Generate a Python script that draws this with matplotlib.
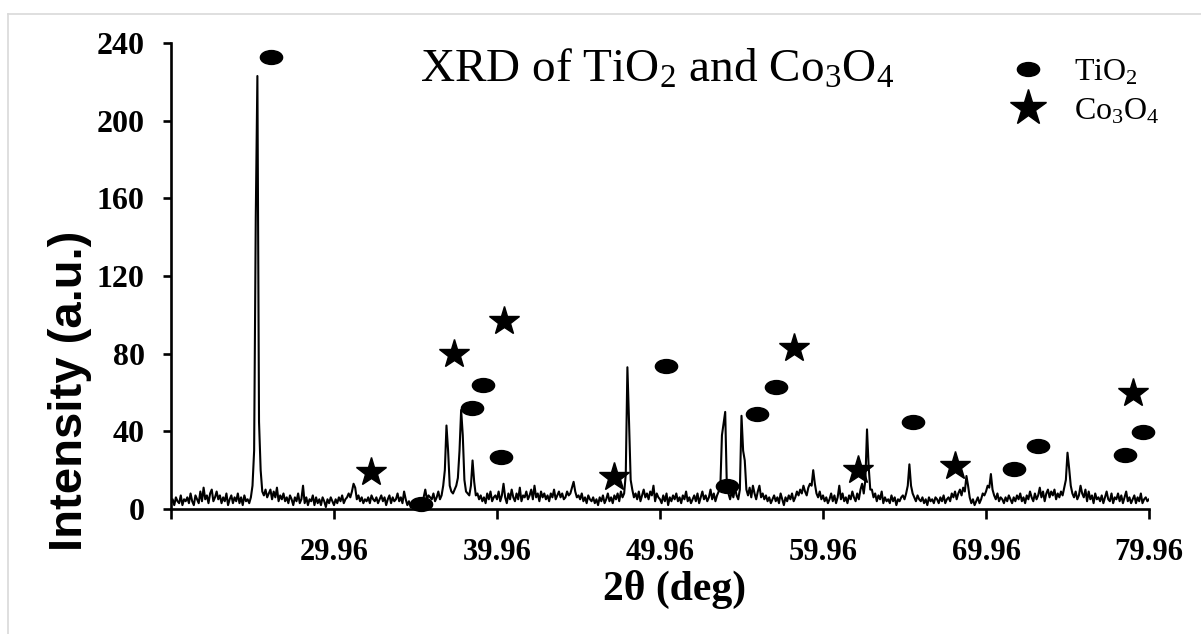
import numpy as np
import matplotlib.pyplot as plt
from matplotlib.markers import MarkerStyle
from matplotlib.transforms import Affine2D
from matplotlib.lines import Line2D

plt.rcParams['font.family'] = ['Liberation Serif', 'DejaVu Serif']
plt.rcParams['mathtext.fontset'] = 'custom'
plt.rcParams['mathtext.rm'] = 'Liberation Serif'
plt.rcParams['mathtext.it'] = 'Liberation Serif:italic'
plt.rcParams['mathtext.bf'] = 'Liberation Serif:bold'

# scan settings (deg)
scan_start = 19.96
scan_step = 0.1

# intensity, one row per degree
intensity = [
    3, 5, 2, 6, 4, 3, 7, 2, 5, 4,
    6, 3, 8, 4, 2, 7, 5, 3, 9, 4,
    11, 5, 7, 3, 8, 10, 4, 6, 9, 5,
    7, 3, 6, 4, 8, 2, 5, 7, 3, 6,
    4, 8, 3, 6, 2, 7, 4, 5, 3, 6,
    12, 30, 150, 223, 45, 20, 9, 7, 10, 6,
    8, 10, 5, 9, 6, 11, 4, 7, 5, 8,
    4, 6, 3, 7, 5, 2, 6, 4, 8, 3,
    5, 12, 3, 6, 2, 5, 4, 7, 2, 6,
    3, 5, 2, 6, 4, 1, 5, 3, 6, 4,
    2, 5, 3, 6, 4, 7, 3, 5, 6, 8,
    6, 9, 13, 11, 5, 7, 4, 6, 3, 5,
    4, 6, 3, 7, 5, 4, 6, 3, 5, 7,
    4, 6, 2, 5, 7, 3, 6, 4, 5, 8,
    4, 6, 3, 9, 5, 2, 4, 1, 3, 2,
    3, 2, 4, 2, 5, 6, 10, 5, 7, 6,
    5, 8, 4, 6, 9, 5, 7, 12, 20, 43,
    30, 12, 9, 8, 10, 12, 16, 30, 51, 38,
    15, 9, 8, 7, 12, 25, 14, 7, 8, 5,
    7, 4, 6, 3, 8, 5, 9, 4, 6, 7,
    5, 9, 4, 7, 13, 6, 3, 8, 5, 10,
    6, 4, 8, 5, 11, 4, 7, 6, 9, 5,
    7, 10, 5, 12, 6, 8, 4, 9, 6, 8,
    5, 7, 4, 8, 6, 10, 5, 7, 9, 6,
    8, 5, 6, 9, 7, 8, 11, 14, 9, 6,
    7, 5, 8, 4, 6, 3, 7, 5, 4, 6,
    3, 5, 2, 6, 4, 7, 3, 5, 8, 4,
    6, 3, 7, 5, 8, 4, 9, 6, 8, 18,
    73, 45, 15, 10, 6, 8, 5, 9, 4, 7,
    10, 6, 8, 5, 9, 7, 12, 4, 8, 6,
    5, 3, 7, 4, 8, 2, 6, 4, 7, 5,
    8, 4, 6, 3, 7, 5, 9, 4, 6, 3,
    5, 7, 4, 8, 3, 6, 9, 5, 7, 4,
    6, 10, 5, 8, 4, 7, 9, 11, 38, 44,
    50, 12, 8, 5, 9, 6, 11, 7, 5, 10,
    48, 30, 25, 10, 7, 11, 6, 12, 8, 5,
    9, 12, 6, 8, 5, 7, 4, 6, 3, 5,
    7, 4, 6, 3, 8, 5, 2, 6, 4, 7,
    5, 8, 4, 6, 9, 7, 10, 8, 12, 9,
    7, 11, 13, 12, 20, 13, 8, 6, 9, 5,
    7, 4, 6, 3, 5, 8, 4, 7, 3, 6,
    12, 5, 8, 4, 6, 3, 7, 5, 9, 6,
    4, 8, 5, 10, 13, 8, 15, 41, 22, 10,
    10, 6, 8, 4, 7, 5, 9, 3, 6, 4,
    5, 3, 7, 4, 6, 2, 5, 4, 6, 7,
    5, 8, 12, 23, 12, 8, 6, 4, 7, 5,
    4, 6, 3, 5, 2, 6, 4, 5, 3, 6,
    5, 3, 6, 4, 7, 3, 5, 6, 4, 8,
    6, 9, 5, 8, 10, 7, 11, 9, 17, 12,
    6, 3, 5, 2, 4, 6, 3, 5, 8, 7,
    9, 12, 11, 18, 10, 7, 5, 8, 4, 6,
    5, 3, 6, 4, 7, 5, 3, 6, 4, 7,
    5, 8, 4, 6, 3, 7, 5, 9, 6, 4,
    8, 5, 7, 11, 6, 9, 4, 8, 10, 6,
    9, 7, 10, 5, 8, 6, 9, 7, 11, 15,
    29, 21, 12, 8, 6, 9, 5, 7, 12, 8,
    6, 10, 4, 9, 5, 7, 3, 8, 5, 6,
    4, 7, 3, 6, 9, 5, 4, 8, 3, 6,
    5, 8, 4, 7, 3, 6, 9, 4, 6, 3,
    5, 7, 3, 6, 4, 8, 3, 5, 6, 4,
    5,
]

# phase markers (position, height)
tio2_x = [26.09, 35.3, 38.4, 39.1, 40.2, 50.3, 54.07, 55.9, 57.1, 65.5, 71.7, 73.15, 78.5, 79.6]
tio2_y = [232.7, 2.6, 52, 64, 26.8, 73.6, 12, 49, 63, 45, 20.6, 32.4, 28, 39.6]
co3o4_x = [32.23, 37.32, 40.4, 47.14, 58.2, 62.1, 68.06, 78.98]
co3o4_y = [19, 80, 97, 16.5, 83, 20, 22, 60]

xticks = [19.96, 29.96, 39.96, 49.96, 59.96, 69.96, 79.96]
xtick_labels = ['', '29.96', '39.96', '49.96', '59.96', '69.96', '79.96']
yticks = [0, 40, 80, 120, 160, 200, 240]

two_theta = scan_start + scan_step * np.arange(len(intensity))

W, H = 1201, 634
fig = plt.figure(figsize=(W / 100, H / 100), dpi=100)
ax = fig.add_axes([171 / W, 1 - 509 / H, 978 / W, 466 / H])

ax.plot(two_theta, intensity, color='black', lw=1.5, zorder=2)

ellipse = MarkerStyle('o', transform=Affine2D().scale(1.6, 1.0))
ax.plot(tio2_x, tio2_y, ls='none', marker=ellipse, ms=10, color='black',
        clip_on=False, zorder=3, label='TiO$_2$')
ax.plot(co3o4_x, co3o4_y, ls='none', marker='*', ms=22, color='black',
        clip_on=False, zorder=3, label='Co$_3$O$_4$')

ax.set_xlim(19.96, 79.96)
ax.set_ylim(0, 240)
ax.set_xticks(xticks)
ax.set_xticklabels(xtick_labels)
ax.set_yticks(yticks)

for side in ['top', 'right']:
    ax.spines[side].set_visible(False)
for side in ['left', 'bottom']:
    ax.spines[side].set_linewidth(1.9)

ax.tick_params(axis='x', direction='out', length=7, width=1.9, pad=14, labelsize=22)
ax.tick_params(axis='y', direction='out', length=6, width=1.9, pad=13, labelsize=23)
for lab in ax.get_xticklabels() + ax.get_yticklabels():
    lab.set_fontweight('bold')

fig.text(70 / W, 1 - 391 / H, 'Intensity (a.u.)', rotation=90, ha='center', va='center',
         fontsize=34, fontweight='bold', family=['Liberation Sans', 'DejaVu Sans'])
fig.text(675 / W, 1 - 589 / H, '2θ (deg)', ha='center', va='center',
         fontsize=30, fontweight='bold')
fig.text(420 / W, 1 - 82 / H, 'XRD of TiO$_2$ and Co$_3$O$_4$', ha='left', va='baseline',
         fontsize=34)

leg = ax.legend(loc='upper left', bbox_to_anchor=(1007 / W, 1 - 58 / H),
                bbox_transform=fig.transFigure, frameon=False, fontsize=23,
                handlelength=1.3, handletextpad=0.8, labelspacing=0.3, borderpad=0,
                borderaxespad=0)
leg.legend_handles[1].set_markersize(27)

# light frame around the picture
fig.add_artist(Line2D([8 / W, 8 / W], [0, 1 - 14 / H], color='#d9d9d9', lw=1.2))
fig.add_artist(Line2D([8 / W, 1], [1 - 14 / H, 1 - 14 / H], color='#d9d9d9', lw=1.2))

fig.savefig('out.png', dpi=100)
